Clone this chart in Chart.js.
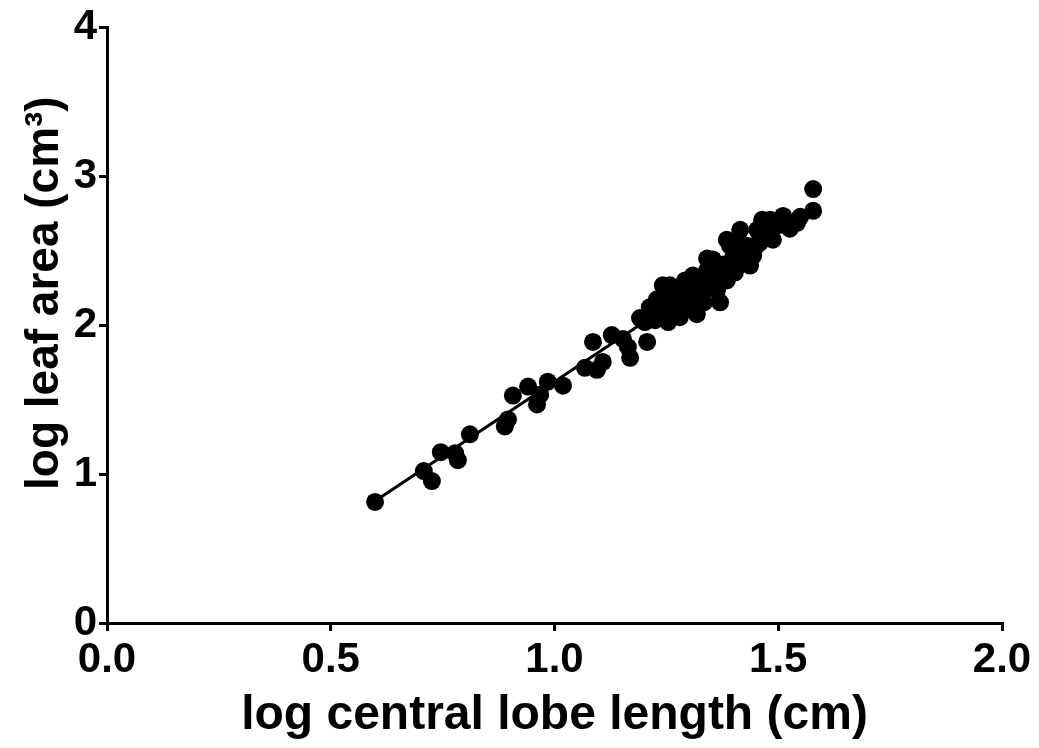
<!DOCTYPE html>
<html>
<head>
<meta charset="utf-8">
<script src="https://cdn.jsdelivr.net/npm/chart.js@4.4.1/dist/chart.umd.min.js"></script>
<style>
  html, body { margin: 0; padding: 0; background: #fff; }
  #wrap { width: 1039px; height: 748px; position: relative; }
</style>
</head>
<body>
<div id="wrap"><canvas id="leafChart"></canvas></div>
<script>
// log central lobe length (cm)
const lobeLength = [
  0.599, 0.708, 0.726, 0.746, 0.778, 0.784, 0.811, 0.889, 0.896, 0.907,
  0.941, 0.961, 0.968, 0.985, 1.019, 1.068, 1.086, 1.095, 1.108, 1.128,
  1.153, 1.169, 1.164, 1.191, 1.207, 1.202, 1.213, 1.225, 1.229, 1.236,
  1.247, 1.254, 1.258, 1.265, 1.276, 1.280, 1.289, 1.298, 1.309, 1.314,
  1.325, 1.334, 1.341, 1.348, 1.354, 1.363, 1.370, 1.377, 1.385, 1.392,
  1.399, 1.408, 1.415, 1.421, 1.430, 1.437, 1.444, 1.453, 1.459, 1.475,
  1.482, 1.488, 1.511, 1.526, 1.542, 1.578, 1.578, 1.242, 1.341, 1.385,
  1.415, 1.464, 1.298, 1.370, 1.318, 1.325, 1.359, 1.381, 1.426, 1.459,
  1.504, 1.403, 1.303, 1.269, 1.448, 1.549, 1.292, 1.348
];
// log leaf area (cm3)
const leafArea = [
  0.813, 1.020, 0.953, 1.147, 1.140, 1.093, 1.267, 1.320, 1.367, 1.527,
  1.587, 1.467, 1.533, 1.620, 1.593, 1.713, 1.887, 1.700, 1.753, 1.933,
  1.907, 1.780, 1.853, 2.047, 1.887, 2.020, 2.120, 2.033, 2.173, 2.073,
  2.153, 2.020, 2.267, 2.120, 2.220, 2.053, 2.153, 2.253, 2.333, 2.187,
  2.287, 2.153, 2.367, 2.253, 2.440, 2.233, 2.340, 2.407, 2.300, 2.533,
  2.453, 2.573, 2.407, 2.500, 2.533, 2.400, 2.467, 2.640, 2.553, 2.667,
  2.707, 2.573, 2.733, 2.647, 2.687, 2.767, 2.913, 2.267, 2.447, 2.573,
  2.640, 2.707, 2.133, 2.153, 2.073, 2.220, 2.320, 2.387, 2.453, 2.607,
  2.673, 2.353, 2.207, 2.180, 2.520, 2.727, 2.300, 2.387
];
// fitted line ends
const fitX = [0.60, 1.58];
const fitY = [0.82, 2.78];

const xTicks = [0, 0.5, 1.0, 1.5, 2.0];
const yTicks = [0, 1, 2, 3, 4];

const points = lobeLength.map((x, i) => ({ x: x, y: leafArea[i] }));
const fitLine = fitX.map((x, i) => ({ x: x, y: fitY[i] }));

const boldFont = "'Liberation Sans', Arial, sans-serif";

new Chart(document.getElementById("leafChart"), {
  type: "scatter",
  data: {
    datasets: [
      {
        label: "fit",
        data: fitLine,
        showLine: true,
        borderColor: "#000",
        borderWidth: 3,
        pointRadius: 0,
        order: 2,
      },
      {
        label: "leaves",
        data: points,
        backgroundColor: "#000",
        borderWidth: 0,
        pointRadius: 9,
        order: 1,
      },
    ],
  },
  options: {
    responsive: true,
    maintainAspectRatio: false,
    animation: false,
    layout: {
      padding: { left: 0, right: 37, top: 23, bottom: 0 },
    },
    scales: {
      x: {
        type: "linear",
        min: 0,
        max: 2,
        afterBuildTicks: (scale) => {
          scale.ticks = xTicks.map((v) => ({ value: v }));
        },
        afterFit: (scale) => {
          scale.height = 125;
        },
        ticks: {
          color: "#000",
          padding: 4,
          maxRotation: 0,
          font: { family: boldFont, size: 42, weight: "bold" },
          callback: (v) => Number(v).toFixed(1),
        },
        grid: {
          drawOnChartArea: false,
          drawTicks: true,
          tickLength: 8,
          color: "#000",
          lineWidth: 3,
        },
        border: { display: true, color: "#000", width: 3 },
        title: {
          display: true,
          text: "log central lobe length (cm)",
          color: "#000",
          padding: { top: 0, bottom: 3 },
          font: { family: boldFont, size: 48, weight: "bold" },
        },
      },
      y: {
        type: "linear",
        min: 0,
        max: 4,
        afterBuildTicks: (scale) => {
          scale.ticks = yTicks.map((v) => ({ value: v }));
        },
        afterFit: (scale) => {
          scale.width = 107;
        },
        ticks: {
          color: "#000",
          padding: 2,
          font: { family: boldFont, size: 42, weight: "bold" },
        },
        grid: {
          drawOnChartArea: false,
          drawTicks: true,
          tickLength: 8,
          color: "#000",
          lineWidth: 3,
        },
        border: { display: true, color: "#000", width: 3 },
        title: {
          display: true,
          text: "     log leaf area (cm³)",
          color: "#000",
          padding: { top: 18, bottom: 0 },
          font: { family: boldFont, size: 46, weight: "bold" },
        },
      },
    },
    plugins: {
      legend: { display: false },
      tooltip: { enabled: false },
    },
  },
});
</script>
</body>
</html>
